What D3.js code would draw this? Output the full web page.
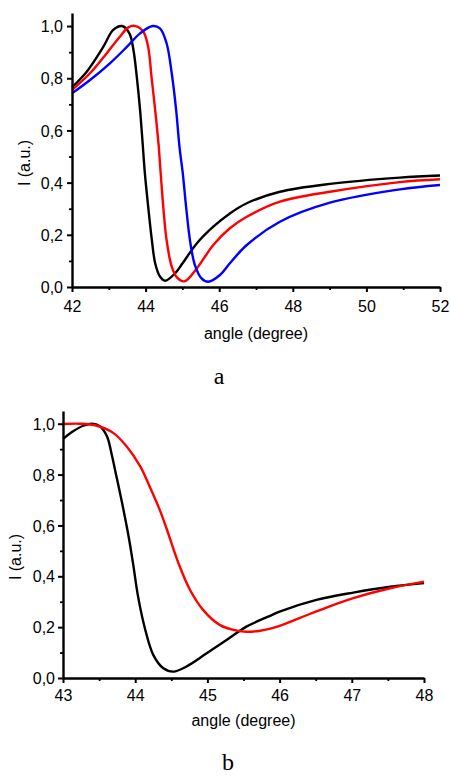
<!DOCTYPE html>
<html>
<head>
<meta charset="utf-8">
<script src="https://cdn.jsdelivr.net/npm/d3@7"></script>
<style>
  html, body { margin: 0; padding: 0; background: #fff; }
  svg { display: block; }
  text { font-family: "Liberation Sans", Arial, sans-serif; fill: #000; }
</style>
</head>
<body>
<svg id="chart" width="451" height="776"></svg>
<script>
// ---------- Data ----------
// Panel a
const aBlackX = [42.0, 42.4, 42.85, 43.12, 43.36, 43.56, 43.67, 43.76, 43.85, 43.92, 43.98, 44.07, 44.17, 44.26, 44.39, 44.53, 44.8, 45.0, 45.39, 45.84, 46.29, 46.75, 47.65, 49.01, 50.91, 52.0];
const aBlackY = [0.765, 0.825, 0.92, 0.985, 1.0, 0.972, 0.908, 0.806, 0.678, 0.55, 0.436, 0.308, 0.18, 0.091, 0.04, 0.024, 0.052, 0.09, 0.167, 0.231, 0.282, 0.321, 0.365, 0.395, 0.419, 0.427];

const aRedX = [42.0, 42.49, 42.94, 43.3, 43.53, 43.73, 43.94, 44.07, 44.16, 44.26, 44.35, 44.41, 44.48, 44.57, 44.71, 44.85, 45.06, 45.39, 45.84, 46.29, 46.75, 47.65, 49.01, 50.91, 52.0];
const aRedY = [0.755, 0.819, 0.895, 0.959, 0.995, 1.0, 0.978, 0.92, 0.806, 0.678, 0.55, 0.436, 0.308, 0.18, 0.078, 0.037, 0.022, 0.071, 0.161, 0.225, 0.269, 0.327, 0.365, 0.402, 0.413];

const aBlueX = [42.0, 42.49, 43.03, 43.49, 43.85, 44.19, 44.39, 44.57, 44.71, 44.83, 44.92, 45.01, 45.1, 45.21, 45.34, 45.52, 45.7, 46.02, 46.29, 46.75, 47.65, 49.01, 50.91, 52.0];
const aBlueY = [0.742, 0.793, 0.857, 0.92, 0.972, 1.0, 0.991, 0.934, 0.819, 0.678, 0.538, 0.436, 0.308, 0.175, 0.084, 0.033, 0.02, 0.046, 0.091, 0.161, 0.25, 0.323, 0.374, 0.391];

// Panel b
const bBlackX = [43.0, 43.14, 43.28, 43.4, 43.51, 43.61, 43.67, 43.74, 43.81, 43.9, 43.97, 44.04, 44.14, 44.25, 44.39, 44.53, 44.71, 44.99, 45.27, 45.54, 45.84, 46.0, 46.51, 47.02, 47.53, 48.0];
const bBlackY = [0.94, 0.97, 0.992, 1.0, 0.99, 0.95, 0.885, 0.793, 0.70, 0.57, 0.451, 0.32, 0.189, 0.091, 0.038, 0.025, 0.045, 0.097, 0.15, 0.202, 0.241, 0.261, 0.307, 0.336, 0.359, 0.373];

const bRedX = [43.0, 43.24, 43.47, 43.7, 43.88, 44.07, 44.2, 44.34, 44.44, 44.6, 44.76, 44.94, 45.17, 45.41, 45.54, 45.73, 45.87, 46.0, 46.51, 47.02, 47.53, 48.0];
const bRedY = [0.999, 1.0, 0.992, 0.963, 0.911, 0.832, 0.753, 0.661, 0.583, 0.451, 0.346, 0.268, 0.209, 0.186, 0.182, 0.186, 0.194, 0.205, 0.262, 0.314, 0.353, 0.379];

// Ticks
const aXTicks = [42, 44, 46, 48, 50, 52];
const aXMinor = [43, 45, 47, 49, 51];
const bXTicks = [43, 44, 45, 46, 47, 48];
const bXMinor = [43.5, 44.5, 45.5, 46.5, 47.5];
const yTicks = [0, 0.2, 0.4, 0.6, 0.8, 1.0];
const yMinor = [0.1, 0.3, 0.5, 0.7, 0.9];

const xTitle = "angle (degree)";
const yTitle = "I (a.u.)";

// ---------- Drawing ----------
const svg = d3.select("#chart");
svg.append("rect").attr("width", 451).attr("height", 776).attr("fill", "#fff");

const fmt = v => d3.format(".1f")(v).replace(".", ",");

function panel(cfg) {
  const x = d3.scaleLinear().domain(cfg.xDomain).range([cfg.left, cfg.right]);
  const y = d3.scaleLinear().domain([0, 1.05]).range([cfg.bottom, cfg.top]);
  const g = svg.append("g");

  // curves
  const line = d3.line().x(d => x(d[0])).y(d => y(d[1])).curve(d3.curveCatmullRom.alpha(0.5));
  cfg.series.forEach(s => {
    g.append("path")
      .datum(d3.zip(s.x, s.y))
      .attr("fill", "none")
      .attr("stroke", s.color)
      .attr("stroke-width", 2.4)
      .attr("stroke-linejoin", "round")
      .attr("d", line);
  });

  // minor ticks
  g.append("g").attr("transform", `translate(0,${cfg.bottom})`)
    .call(d3.axisBottom(x).tickValues(cfg.xMinor).tickSize(3).tickSizeOuter(0).tickFormat(""))
    .call(a => a.select(".domain").remove())
    .call(a => a.selectAll("line").attr("stroke-width", 1.8));
  g.append("g").attr("transform", `translate(${cfg.left},0)`)
    .call(d3.axisLeft(y).tickValues(yMinor).tickSize(3).tickSizeOuter(0).tickFormat(""))
    .call(a => a.select(".domain").remove())
    .call(a => a.selectAll("line").attr("stroke-width", 1.8));

  // major axes
  const xa = g.append("g").attr("transform", `translate(0,${cfg.bottom})`)
    .call(d3.axisBottom(x).tickValues(cfg.xTicks).tickSize(5).tickSizeOuter(0).tickFormat(d3.format("d")));
  xa.select(".domain").attr("stroke-width", 2.4);
  xa.selectAll("line").attr("stroke-width", 2);
  xa.selectAll("text").attr("dy", null).attr("y", cfg.xLabelOff)
    .style("font-family", "'Liberation Sans', Arial, sans-serif").style("font-size", "16px").attr("fill", "#000");

  const ya = g.append("g").attr("transform", `translate(${cfg.left},0)`)
    .call(d3.axisLeft(y).tickValues(yTicks).tickSize(5).tickSizeOuter(0).tickFormat(fmt));
  ya.select(".domain").attr("stroke-width", 2.4);
  ya.selectAll("line").attr("stroke-width", 2);
  ya.selectAll("text").attr("x", -cfg.yLabelOff).attr("dy", "0.35em")
    .style("font-family", "'Liberation Sans', Arial, sans-serif").style("font-size", "16px").attr("fill", "#000");

  // titles
  g.append("text").attr("x", (cfg.left + cfg.right) / 2).attr("y", cfg.xTitleY)
    .attr("text-anchor", "middle").style("font-size", "16px").text(xTitle);
  g.append("text").attr("transform", `translate(${cfg.yTitleX},${cfg.yTitleY}) rotate(-90)`)
    .attr("text-anchor", "middle").style("font-size", "16px").text(yTitle);
  g.append("text").attr("x", cfg.capX).attr("y", cfg.capY).attr("text-anchor", "middle")
    .style("font-family", "'Liberation Serif', 'Times New Roman', serif").style("font-size", "24px")
    .text(cfg.caption);
}

panel({
  xDomain: [42, 52], left: 72, right: 440, top: 13, bottom: 287,
  xTicks: aXTicks, xMinor: aXMinor, xLabelOff: 24.5, yLabelOff: 9,
  xTitleY: 338.5, yTitleX: 30, yTitleY: 163, capX: 219, capY: 384, caption: "a",
  series: [
    { x: aBlackX, y: aBlackY, color: "#000000" },
    { x: aRedX, y: aRedY, color: "#ff0000" },
    { x: aBlueX, y: aBlueY, color: "#0000ff" }
  ]
});

panel({
  xDomain: [43, 48], left: 63, right: 424, top: 411, bottom: 678,
  xTicks: bXTicks, xMinor: bXMinor, xLabelOff: 22.5, yLabelOff: 8,
  xTitleY: 726, yTitleX: 21, yTitleY: 557, capX: 228, capY: 770, caption: "b",
  series: [
    { x: bBlackX, y: bBlackY, color: "#000000" },
    { x: bRedX, y: bRedY, color: "#ff0000" }
  ]
});
</script>
</body>
</html>
